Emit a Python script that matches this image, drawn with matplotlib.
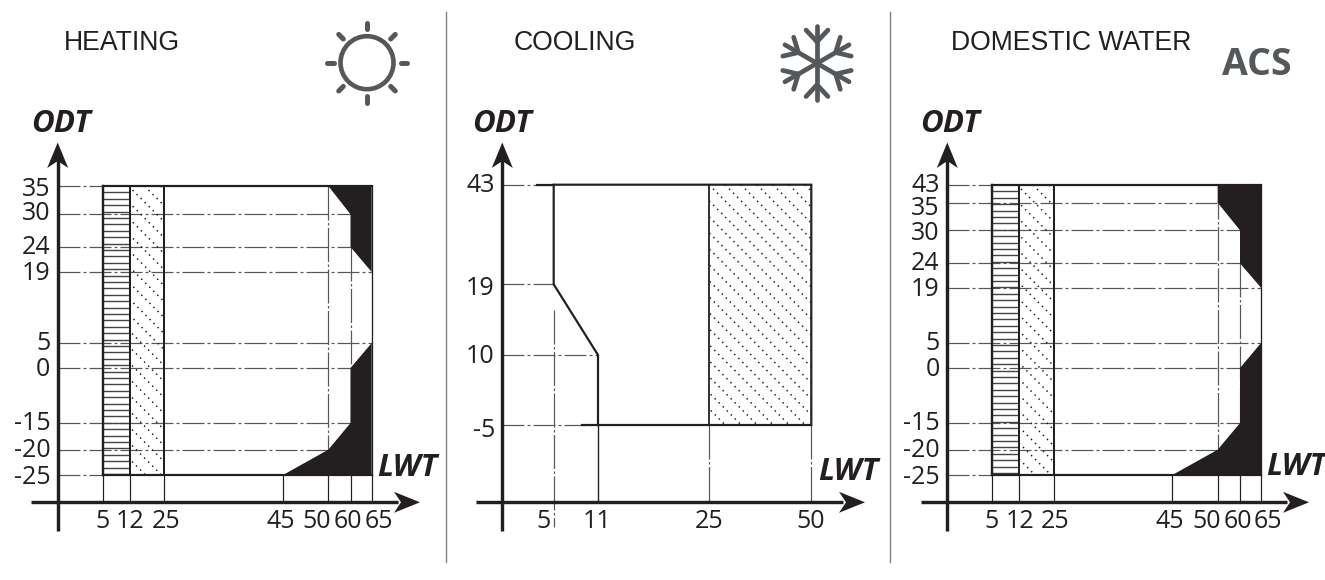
import numpy as np
import matplotlib
matplotlib.use("Agg")
import matplotlib.pyplot as plt
from matplotlib.transforms import Affine2D, ScaledTranslation
from matplotlib.collections import LineCollection
from matplotlib.patches import Polygon, Rectangle, Circle

# ---------- data ----------
titles = ["HEATING", "COOLING", "DOMESTIC WATER"]

heat_lwt = [5, 12, 25, 45, 50, 60, 65]
heat_odt = [35, 30, 24, 19, 5, 0, -15, -20, -25]
heat_black_top = [(50, 35), (60, 30), (60, 24), (65, 19), (65, 35)]
heat_black_low = [(65, 5), (60, 0), (60, -15), (50, -20), (45, -25), (65, -25)]
heat_guides = [(35, 5), (30, 60), (24, 60), (19, 65), (5, 65), (0, 60), (-15, 60), (-20, 50), (-25, 5)]

cool_lwt = [5, 11, 25, 50]
cool_odt = [43, 19, 10, -5]
cool_outline = [(5, 43), (5, 19), (11, 10), (11, -5), (50, -5), (50, 43)]
cool_guides = [(43, 5), (19, 5), (10, 11), (-5, 11)]

dhw_lwt = [5, 12, 25, 45, 50, 60, 65]
dhw_odt = [43, 35, 30, 24, 19, 5, 0, -15, -20, -25]
dhw_black_top = [(50, 43), (50, 35), (60, 30), (60, 24), (65, 19), (65, 43)]
dhw_black_low = [(65, 5), (60, 0), (60, -15), (50, -20), (45, -25), (65, -25)]
dhw_guides = [(43, 5), (35, 50), (30, 60), (24, 60), (19, 65), (5, 65), (0, 60), (-15, 60), (-20, 50), (-25, 5)]

# ---------- layout (non-linear axes of the original drawing, in pixels) ----------
W, H = 1325, 580
INK = "#231f20"
ICON = "#54585a"
GUIDE = "#55585a"
plt.rcParams["font.family"] = ["Open Sans", "DejaVu Sans"]
plt.rcParams["lines.scale_dashes"] = False
PX = 72 / 100  # one pixel in points

fig = plt.figure(figsize=(W / 100, H / 100), dpi=100, facecolor="white")
pix = Affine2D().scale(1, -1).translate(0, H)


def piecewise(vals, pos):
    order = np.argsort(vals)
    v = np.asarray(vals, float)[order]
    p = np.asarray(pos, float)[order]
    k = 1e4
    s0 = (p[1] - p[0]) / (v[1] - v[0])
    s1 = (p[-1] - p[-2]) / (v[-1] - v[-2])
    ve = np.r_[v[0] - k, v, v[-1] + k]
    pe = np.r_[p[0] - k * s0, p, p[-1] + k * s1]
    return (lambda a: np.interp(a, ve, pe)), (lambda a: np.interp(a, pe, ve))


DASH = (0, (22 * PX, 3 * PX, 3 * PX, 3 * PX))
DASH_V = (0, (34 * PX, 2.5 * PX, 2.5 * PX, 2.5 * PX))


def make_axes(rect_px, lwt, lwt_px, odt, odt_px, axis_x, axis_y, tip_x, left_x,
              xoff, yoff):
    fx, ix = piecewise(lwt, lwt_px)
    fy, iy = piecewise(odt, [-p for p in odt_px])
    l, r = rect_px
    ax = fig.add_axes([l / W, 0, (r - l) / W, 1])
    ax.patch.set_alpha(0)
    ax.set_xscale("function", functions=(fx, ix))
    ax.set_yscale("function", functions=(fy, iy))
    ax.set_xlim(float(ix(l)), float(ix(r)))
    ax.set_ylim(float(iy(-H)), float(iy(0)))
    for s in ("top", "right"):
        ax.spines[s].set_visible(False)
    ax.spines["left"].set_position(("data", float(ix(axis_x))))
    ax.spines["bottom"].set_position(("data", float(iy(-axis_y))))
    ax.spines["left"].set_bounds(float(iy(-531)), float(iy(-160)))
    ax.spines["bottom"].set_bounds(float(ix(left_x)), float(ix(tip_x - 22)))
    for s in ("left", "bottom"):
        ax.spines[s].set_linewidth(3.4 * PX)
        ax.spines[s].set_color(INK)
        ax.spines[s].set_capstyle("butt")
    ax.set_xticks(lwt, [str(v) for v in lwt])
    ax.set_yticks(odt, [str(v) for v in odt])
    ax.minorticks_off()
    ax.tick_params(axis="x", length=0, pad=4.6, labelsize=18, labelcolor=INK)
    ax.tick_params(axis="y", length=0, pad=5.4, labelsize=18, labelcolor=INK)
    for lab, dx in zip(ax.get_xticklabels(), xoff):
        lab.set_transform(lab.get_transform() + ScaledTranslation(dx * PX / 72, 0, fig.dpi_scale_trans))
    for lab, dy in zip(ax.get_yticklabels(), yoff):
        lab.set_transform(lab.get_transform() + ScaledTranslation(0, -dy * PX / 72, fig.dpi_scale_trans))
    # arrow heads
    ax.add_patch(Polygon([(tip_x, axis_y), (tip_x - 26, axis_y - 10.5), (tip_x - 19, axis_y),
                          (tip_x - 26, axis_y + 10.5)], closed=True, transform=pix,
                         fc=INK, ec="none", clip_on=False, zorder=6))
    ax.add_patch(Polygon([(axis_x, 142.5), (axis_x - 10.5, 168), (axis_x, 161), (axis_x + 10.5, 168)],
                         closed=True, transform=pix, fc=INK, ec="none", clip_on=False, zorder=6))
    return ax, fx, fy


def guide(ax, xs, ys, style=DASH, lw=1.2, color=GUIDE, z=2):
    ax.plot(xs, ys, color=color, lw=lw * PX, ls=style, zorder=z,
            dash_capstyle="butt", solid_capstyle="butt")


def solid(ax, xs, ys, lw=2.2, color=INK, z=4):
    ax.plot(xs, ys, color=color, lw=lw * PX, zorder=z, solid_capstyle="projecting",
            solid_joinstyle="miter")


def dotted_hatch(ax, x0, x1, y0, y1, step=16.0):
    segs = []
    for c in np.arange(x0 - (y1 - y0) - step, x1 + step, step):
        segs.append([(c, y0), (c + (y1 - y0), y1)])
    lc = LineCollection(segs, colors=INK, linewidths=1.5 * PX, transform=pix,
                        linestyles=[(0, (1.5 * PX, 4.2 * PX))], zorder=3)
    ax.add_collection(lc, autolim=False)
    lc.set_clip_path(Rectangle((x0, y0), x1 - x0, y1 - y0, transform=pix))


def stripes(ax, x0, x1, y0, y1, step=6.4):
    segs = [[(x0, y), (x1, y)] for y in np.arange(y0 + step, y1, step)]
    lc = LineCollection(segs, colors="#444446", linewidths=1.4 * PX, transform=pix, zorder=3)
    ax.add_collection(lc, autolim=False)


def pix_to_val(fx, p, vals):
    probe = np.linspace(min(vals) - 60, max(vals), 20001)
    return float(probe[np.argmin(np.abs(fx(probe) - p))])


def pix_to_odt(fy, p, vals):
    probe = np.linspace(min(vals) - 60, max(vals), 20001)
    return float(probe[np.argmin(np.abs(fy(probe) + p))])


def envelope_panel(rect, lwt, lwt_px, odt, odt_px, axis_x, tip_x, left_x, xoff, yoff,
                   guides, black_top, black_low):
    axis_y = 502.3
    ax, fx, fy = make_axes(rect, lwt, lwt_px, odt, odt_px, axis_x, axis_y, tip_x, left_x, xoff, yoff)
    top, bot = max(odt), min(odt)
    y_axis = pix_to_odt(fy, axis_y, odt)
    x_axis = pix_to_val(fx, axis_x, lwt)
    # coloured zones
    p5, p12, p25 = lwt_px[0], lwt_px[1], lwt_px[2]
    stripes(ax, p5, p12, odt_px[0], odt_px[-1])
    dotted_hatch(ax, p12, p25, odt_px[0], odt_px[-1])
    # guides
    for y, xe in guides:
        guide(ax, [x_axis, xe], [y, y])
    guide(ax, [50, 50], [top, bot], style=DASH_V)
    guide(ax, [60, 60], [24, bot], style=DASH_V)
    for v in lwt:
        solid(ax, [v, v], [bot, y_axis], lw=1.2, z=3)
    # envelope
    solid(ax, [5, 65], [top, top])
    solid(ax, [5, 65], [bot, bot])
    solid(ax, [5, 5], [top, bot], lw=2.4)
    solid(ax, [12, 12], [top, bot], lw=2.0)
    solid(ax, [25, 25], [top, bot], lw=2.0)
    solid(ax, [65, 65], [top, bot], lw=1.3)
    ax.add_patch(Polygon(black_top, closed=True, fc=INK, ec="none", zorder=5))
    ax.add_patch(Polygon(black_low, closed=True, fc=INK, ec="none", zorder=5))
    return ax


# panel 1 : heating
envelope_panel((0, 445),
               heat_lwt, [102.7, 129.5, 164.3, 283, 328.3, 350.5, 371.7],
               heat_odt, [186, 214.3, 247, 272, 343, 368, 423, 449.7, 475],
               57.7, 420, 31,
               [0, 1, 1.5, -2.5, -11.5, -2.5, 7.5],
               [1, -3.5, -3, -2, -2, -1, -3, -2, -1],
               heat_guides, heat_black_top, heat_black_low)

# panel 2 : cooling
ax2, fx2, fy2 = make_axes((445, 890), cool_lwt, [553.7, 598, 709.3, 811.3],
                          cool_odt, [184.7, 284.3, 355, 425],
                          502.3, 502.3, 865, 476,
                          [-10, -1, -0.5, -0.5], [-2, 1, -2, 2])
y_axis2 = pix_to_odt(fy2, 502.3, cool_odt)
x_axis2 = pix_to_val(fx2, 502.3, cool_lwt)
for y, xe in cool_guides:
    guide(ax2, [x_axis2, xe], [y, y])
dotted_hatch(ax2, 709.3, 811.3, 184.7, 425, step=16.0)
guide(ax2, [5, 5], [15.7, pix_to_odt(fy2, 527, cool_odt)], style=DASH_V)
solid(ax2, [11, 11], [-5, y_axis2], lw=1.4, z=3)
guide(ax2, [25, 25], [-5, y_axis2], style=DASH_V)
guide(ax2, [50, 50], [-5, y_axis2], style=DASH_V)
ax2.add_patch(Polygon(cool_outline, closed=True, fc="none", ec=INK, lw=2.2 * PX, zorder=4,
                      joinstyle="miter"))
solid(ax2, [25, 25], [43, -5], lw=1.8)
# start of the solid top / bottom edges past the dashes
solid(ax2, [pix_to_val(fx2, 537, cool_lwt), 5], [43, 43])
solid(ax2, [pix_to_val(fx2, 582, cool_lwt), 11], [-5, -5])

# panel 3 : domestic water
envelope_panel((890, 1325),
               dhw_lwt, [992.3, 1019, 1054, 1172.3, 1217.7, 1240, 1261],
               dhw_odt, [185, 202.7, 230.3, 263.3, 287.7, 343, 368, 423, 449.7, 475],
               947.3, 1309, 921,
               [-0.5, 1, 1, -2.5, -11, -2.5, 7],
               [-2.5, 3.0, 0.5, -3, -1, -2, -1, -3, -2, -1],
               dhw_guides, dhw_black_top, dhw_black_low)

# ---------- decorations ----------
overlay = fig.add_axes([0, 0, 1, 1])
overlay.set_xlim(0, W)
overlay.set_ylim(H, 0)
overlay.axis("off")
overlay.patch.set_alpha(0)

for x in (446, 890):
    overlay.plot([x, x], [12, 562], color="#808285", lw=1.4 * PX)

for x, t in zip((64, 514, 951), titles):
    overlay.text(x, 43, t, family="Liberation Sans", fontsize=19.2, color=INK, ha="left", va="center")

for x, y in ((31, 124), (472, 124), (920, 124)):
    overlay.text(x, y, "ODT", fontsize=22.5, fontweight="bold", fontstyle="italic", color=INK,
                 ha="left", va="center")
for x, y in ((377, 468), (818, 472), (1266, 467)):
    overlay.text(x, y, "LWT", fontsize=22.5, fontweight="bold", fontstyle="italic", color=INK,
                 ha="left", va="center")

overlay.text(1222, 65, "ACS", fontsize=27, fontweight="bold", color=ICON, ha="left", va="center")

# sun
sx, sy = 367, 62.7
overlay.add_patch(Circle((sx, sy), 26.5, fc="none", ec=ICON, lw=4.6 * PX))
for a in np.deg2rad(np.arange(0, 360, 45)):
    overlay.plot([sx + 33.5 * np.cos(a), sx + 40 * np.cos(a)],
                 [sy + 33.5 * np.sin(a), sy + 40 * np.sin(a)],
                 color=ICON, lw=5 * PX, solid_capstyle="round")

# snowflake
fx0, fy0 = 817, 63.3
for deg in range(0, 360, 60):
    a = np.deg2rad(deg + 90)
    ux, uy = np.cos(a), np.sin(a)
    overlay.plot([fx0, fx0 + 37 * ux], [fy0, fy0 + 37 * uy], color=ICON, lw=4.7 * PX,
                 solid_capstyle="round")
    for side in (-1, 1):
        b = a + side * np.deg2rad(43)
        jx, jy = fx0 + 21.5 * ux, fy0 + 21.5 * uy
        overlay.plot([jx, jx + 16 * np.cos(b)], [jy, jy + 16 * np.sin(b)], color=ICON,
                     lw=4.7 * PX, solid_capstyle="round")

fig.savefig("out.png", dpi=100, facecolor="white")
